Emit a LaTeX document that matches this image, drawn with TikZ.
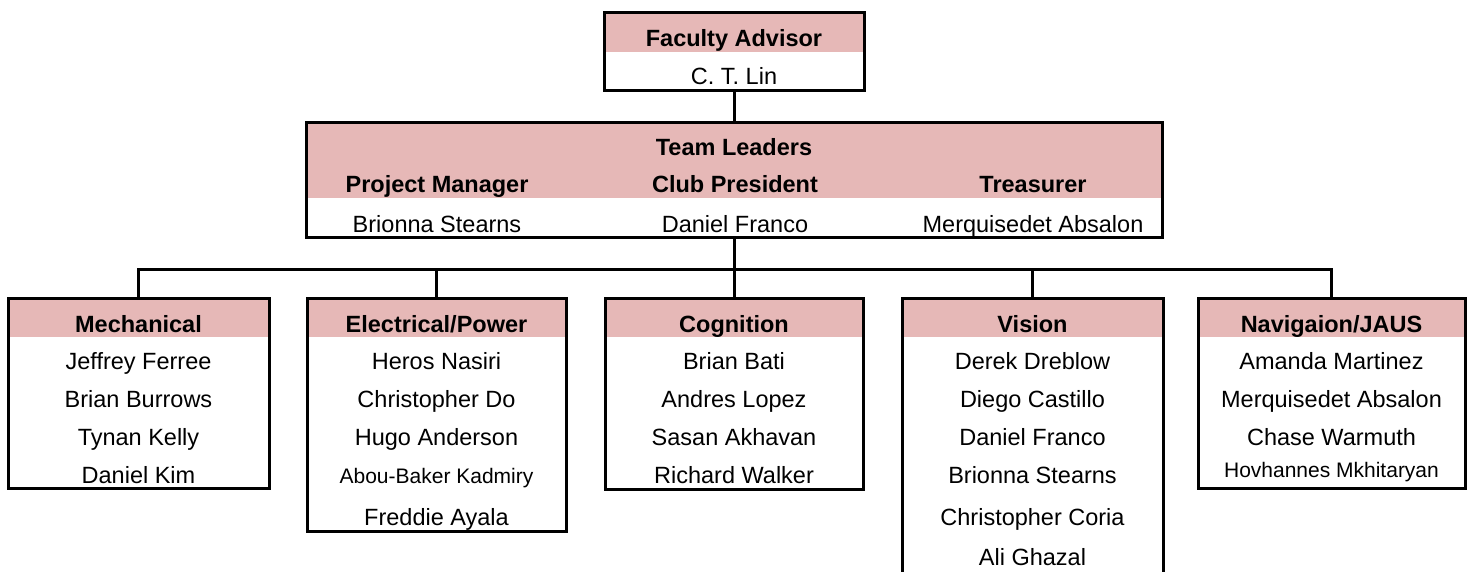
\documentclass[tikz,border=0pt]{standalone}
\usepackage{fontspec}
\setmainfont{Liberation Sans}
\definecolor{HeadPink}{HTML}{E6B8B7}

\begin{document}
\begin{tikzpicture}[x=1pt, y=-1pt,
    every node/.style={inner sep=0pt, outer sep=0pt},
    band/.style={fill=HeadPink, anchor=north west, minimum height=39pt},
    frame/.style={draw, line width=3pt, anchor=north west},
    head/.style={font=\fontsize{23.5}{24}\selectfont\bfseries, text height=17pt, text depth=0pt},
    who/.style={font=\fontsize{23.5}{24}\selectfont, text height=17pt, text depth=0pt},
    whosm/.style={font=\fontsize{21}{22}\selectfont, text height=15pt, text depth=0pt},
    link/.style={line width=3pt}]
  \useasboundingbox (0,0) rectangle (1470,572);
  \clip (0,0) rectangle (1470,572);

  % pink header bands go first, frames are stroked over them
  \node[band, minimum width=260pt] (advisor-band) at (604,13) {};
  \node[band, minimum width=856pt, minimum height=75pt] (leaders-band) at (306,123) {};
  \foreach \u/\x/\w in {mech/8/261, elec/307/259, cog/605/258, vis/902/261, nav/1198/267}
    \node[band, minimum width=\w pt] (\u-band) at (\x,298) {};

  \node[frame, minimum width=260pt, minimum height=78pt] (advisor) at (604,13) {};
  \node[frame, minimum width=856pt, minimum height=115pt] (leaders) at (306,123) {};
  \node[frame, minimum width=261pt, minimum height=190pt] (mech) at (8,298) {};
  \node[frame, minimum width=259pt, minimum height=233pt] (elec) at (307,298) {};
  \node[frame, minimum width=258pt, minimum height=191pt] (cog) at (605,298) {};
  \node[frame, minimum width=261pt, minimum height=290pt] (vis) at (902,298) {};
  \node[frame, minimum width=267pt, minimum height=190pt] (nav) at (1198,298) {};

  % faculty advisor
  \node[head] (advisor-title) at (734,38.5) {Faculty Advisor};
  \node[who] (advisor-name) at (734,76.5) {C. T. Lin};

  % team leaders
  \node[head] (leaders-title) at (734,147) {Team Leaders};
  \foreach \x/\r/\n [count=\i] in {437/Project Manager/Brionna Stearns,
                                   735/Club President/Daniel Franco,
                                   1033/Treasurer/Merquisedet Absalon}{
    \node[head] (role-\i) at (\x,184) {\r};
    \node[who] (lead-\i) at (\x,224) {\n};}

  % sub-teams
  \node[head] (mech-title) at (138.5,324) {Mechanical};
  \node[head] (elec-title) at (436.5,324) {Electrical/Power};
  \node[head] (cog-title) at (734,324) {Cognition};
  \node[head] (vis-title) at (1032.5,324) {Vision};
  \node[head] (nav-title) at (1331.5,324) {Navigaion/JAUS};

  \foreach \y/\n [count=\i] in {361/Jeffrey Ferree, 399/Brian Burrows,
                                437/Tynan Kelly, 475/Daniel Kim}
    \node[who] (mech-\i) at (138.5,\y) {\n};
  \foreach \y/\n/\s [count=\i] in {361/Heros Nasiri/who, 399/Christopher Do/who,
                                   437/Hugo Anderson/who, 476/Abou-Baker Kadmiry/whosm,
                                   517/Freddie Ayala/who}
    \node[\s] (elec-\i) at (436.5,\y) {\n};
  \foreach \y/\n [count=\i] in {361/Brian Bati, 399/Andres Lopez,
                                437/Sasan Akhavan, 475/Richard Walker}
    \node[who] (cog-\i) at (734,\y) {\n};
  \foreach \y/\n [count=\i] in {361/Derek Dreblow, 399/Diego Castillo,
                                437/Daniel Franco, 475/Brionna Stearns,
                                517/Christopher Coria, 557/Ali Ghazal}
    \node[who] (vis-\i) at (1032.5,\y) {\n};
  \foreach \y/\n/\s [count=\i] in {361/Amanda Martinez/who, 399/Merquisedet Absalon/who,
                                   437/Chase Warmuth/who, 470/Hovhannes Mkhitaryan/whosm}
    \node[\s] (nav-\i) at (1331.5,\y) {\n};

  % connectors
  \coordinate (bus) at (734,269);
  \draw[link] (advisor.south) -- (leaders.north);
  \draw[link] (leaders.south) -- (bus);
  \foreach \u in {mech,elec,cog,vis,nav}
    \draw[link] (\u.north) |- (bus);
\end{tikzpicture}
\end{document}
